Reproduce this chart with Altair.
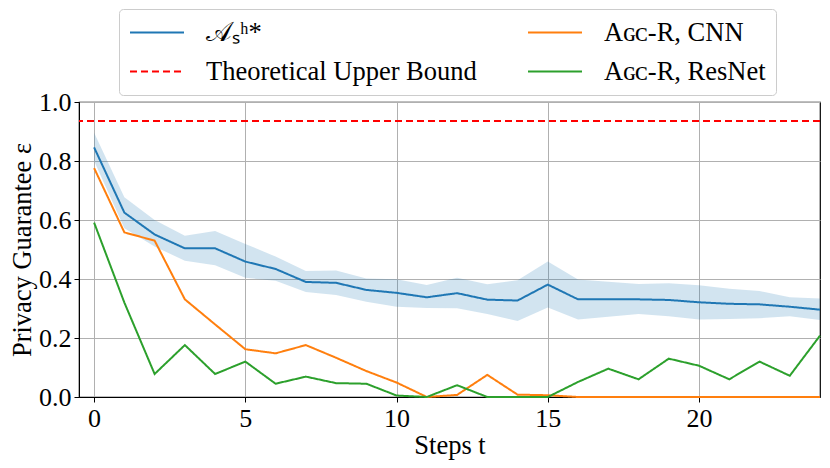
import altair as alt
import pandas as pd

steps = list(range(25))
as_mean = [0.846, 0.625, 0.551, 0.504, 0.504, 0.459, 0.434, 0.390, 0.387, 0.363, 0.353, 0.338, 0.352,
           0.330, 0.327, 0.381, 0.331, 0.331, 0.331, 0.329, 0.321, 0.316, 0.314, 0.306, 0.296]
as_upper = [0.896, 0.677, 0.600, 0.547, 0.563, 0.519, 0.476, 0.427, 0.429, 0.402, 0.399, 0.380, 0.404,
            0.382, 0.396, 0.459, 0.398, 0.391, 0.383, 0.386, 0.379, 0.367, 0.359, 0.338, 0.334]
as_lower = [0.800, 0.572, 0.510, 0.462, 0.447, 0.404, 0.394, 0.356, 0.346, 0.323, 0.306, 0.302, 0.301,
            0.281, 0.258, 0.303, 0.263, 0.272, 0.281, 0.274, 0.263, 0.264, 0.267, 0.274, 0.261]
cnn = [0.776, 0.558, 0.530, 0.331, 0.246, 0.162, 0.148, 0.176, 0.133, 0.088, 0.049, 0.0, 0.007,
       0.075, 0.008, 0.006, 0.0, 0.0, 0.0, 0.0, 0.0, 0.0, 0.0, 0.0, 0.0]
resnet = [0.591, 0.320, 0.078, 0.176, 0.078, 0.120, 0.045, 0.069, 0.047, 0.045, 0.005, 0.0, 0.040,
          0.0, 0.0, 0.0, 0.051, 0.096, 0.060, 0.130, 0.106, 0.060, 0.120, 0.072, 0.208]
upper_bound = 0.936

# legend order (column-major): A_S, Theory | CNN, ResNet
names = ["𝒜ₛʰ*", "Theoretical Upper Bound", "Aɢᴄ-R, CNN", "Aɢᴄ-R, ResNet"]
colors = ["#1f77b4", "#ff0000", "#ff7f0e", "#2ca02c"]
dashes = [[1, 0], [7, 4], [1, 0], [1, 0]]

lines_df = pd.concat([
    pd.DataFrame({"t": steps, "v": as_mean, "s": names[0]}),
    pd.DataFrame({"t": steps, "v": cnn, "s": names[2]}),
    pd.DataFrame({"t": steps, "v": resnet, "s": names[3]}),
])
band_df = pd.DataFrame({"t": steps, "lo": as_lower, "hi": as_upper})
bound_df = pd.DataFrame({"v": [upper_bound], "s": [names[1]]})

FONT = "Liberation Serif"
FS = 26.5

x = alt.X("t:Q", scale=alt.Scale(domain=[-0.5, 24], nice=False, zero=False),
          axis=alt.Axis(values=[0, 5, 10, 15, 20], title="Steps t", format="d"))
y_axis = alt.Axis(values=[0, 0.2, 0.4, 0.6, 0.8, 1.0], format=".1f", title="Privacy Guarantee ε")
yscale = alt.Scale(domain=[0, 1], nice=False)

color = alt.Color("s:N", scale=alt.Scale(domain=names, range=colors),
                  legend=alt.Legend(title=None, orient="none", legendX=40, legendY=-93,
                                    columns=2, symbolType="stroke", symbolSize=2916,
                                    clipHeight=27, symbolStrokeWidth=2, labelOffset=21,
                                    columnPadding=50, rowPadding=12, padding=10,
                                    labelLimit=400, strokeColor="#cccccc", cornerRadius=4,
                                    fillColor="white"))
dash = alt.StrokeDash("s:N", scale=alt.Scale(domain=names, range=dashes), legend=None)

band = alt.Chart(band_df).mark_area(color="#1f77b4", opacity=0.2).encode(
    x=x, y=alt.Y("lo:Q", scale=yscale, axis=y_axis), y2="hi:Q")
lines = alt.Chart(lines_df).mark_line(strokeWidth=2).encode(
    x=x, y=alt.Y("v:Q", scale=yscale, axis=y_axis), color=color, strokeDash=dash,
    order="t:Q")
bound = alt.Chart(bound_df).mark_rule(strokeWidth=2).encode(
    y=alt.Y("v:Q", scale=yscale, axis=y_axis), color=color, strokeDash=dash)

chart = alt.layer(band, lines, bound).properties(
    width=741, height=295,
    autosize=alt.AutoSizeParams(type="none"),
    padding={"left": 71, "top": 94, "right": 2, "bottom": 63},
).configure_view(stroke="black", strokeWidth=1.2).configure_axis(
    labelFont=FONT, titleFont=FONT, labelFontSize=26, titleFontSize=FS,
    labelColor="black", titleColor="black", titleFontWeight="normal",
    gridColor="#b0b0b0", gridWidth=1, domainColor="black", tickColor="black",
    tickSize=5, labelPadding=3,
).configure_axisY(titlePadding=2).configure_axisX(titlePadding=1).configure_legend(
    labelFont=FONT, labelFontSize=FS, labelColor="black")

chart.save("out.html", embed_options={"renderer": "svg", "actions": False})
